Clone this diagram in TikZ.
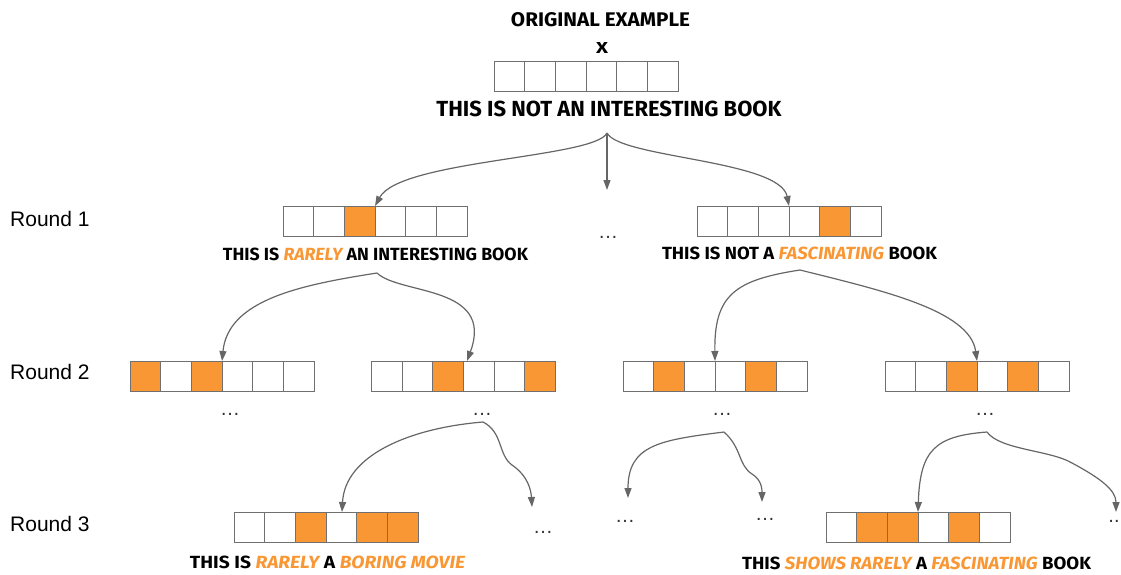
\documentclass[tikz,border=0pt]{standalone}
\usepackage{fontspec}
\usepackage{graphicx}
\setmainfont{Liberation Sans}
\newfontfamily\comic{Fira Sans}
\usetikzlibrary{arrows.meta}
\definecolor{orng}{HTML}{F99734}
\definecolor{cellline}{HTML}{707070}
\definecolor{arr}{HTML}{666666}
\newcommand\fitt[3]{\resizebox{#1pt}{#2pt}{\comic\bfseries #3}}
\newcommand\orw[1]{\textcolor{orng}{\itshape #1}}
\newcommand\tokrow[3]{\foreach \i in {1,...,6}{\node[cellbox] (#1\i) at ({#2+(\i-0.5)*30.667},{#3+15}) {};}}
\newcommand\hot[2]{\foreach \i in {#2}{\node[cellbox,fill=orng] at (#1\i) {};}}
\tikzset{
  cellbox/.style={draw=cellline, line width=1pt, fill=white, minimum width=30.667pt, minimum height=30pt, inner sep=0pt, outer sep=0pt},
  conn/.style={draw=arr, line width=1.2pt, -{Triangle[length=10pt,width=7pt]}},
  dotsn/.style={font=\fontsize{20}{20}\selectfont, anchor=base, inner sep=0pt, text=black!80},
  roundlbl/.style={font=\fontsize{21}{21}\selectfont, anchor=west, inner sep=0pt},
  txt/.style={inner sep=0pt, outer sep=0pt}
}
\begin{document}
\begin{tikzpicture}[x=1pt,y=-1pt]
\useasboundingbox (0,0) rectangle (1121,574);

% labels
\node[roundlbl] (r1) at (10,219) {Round 1};
\node[roundlbl] (r2) at (10,372) {Round 2};
\node[roundlbl] (r3) at (10,524) {Round 3};

% top
\node[txt] (title) at (600.5,20) {\fitt{179}{14}{ORIGINAL EXAMPLE}};
\node[txt] (xl) at (602,47.5) {\fitt{12}{11}{X}};
\tokrow{T}{494}{61}
\node[txt] (s0) at (609,109) {\fitt{345}{15.5}{THIS IS NOT AN INTERESTING BOOK}};

% round 1
\tokrow{P}{283}{206}
\hot{P}{3}
\tokrow{Q}{697}{206}
\hot{Q}{5}
\node[txt] (s1l) at (375.5,254) {\fitt{305}{12.5}{THIS IS \orw{RARELY} AN INTERESTING BOOK}};
\node[txt] (s1r) at (799.5,253.5) {\fitt{275}{12.5}{THIS IS NOT A \orw{FASCINATING} BOOK}};
\node[dotsn] (d1) at (608,238) {…};

% round 2
\tokrow{A}{130}{361}
\hot{A}{1,3}
\tokrow{B}{371.5}{361}
\hot{B}{3,6}
\tokrow{C}{623}{361}
\hot{C}{2,5}
\tokrow{D}{885}{361}
\hot{D}{3,5}
\node[dotsn] (dA) at (230,415) {…};
\node[dotsn] (dB) at (482,415) {…};
\node[dotsn] (dC) at (722,415) {…};
\node[dotsn] (dD) at (985,415) {…};

% round 3
\tokrow{E}{234}{512}
\hot{E}{3,5,6}
\tokrow{F}{826}{512}
\hot{F}{2,3,5}
\node[txt] (se) at (327.5,562) {\fitt{275}{12.5}{THIS IS \orw{RARELY} A \orw{BORING MOVIE}}};
\node[txt] (sf) at (916.5,563) {\fitt{349}{12.5}{THIS \orw{SHOWS RARELY} A \orw{FASCINATING} BOOK}};
\node[dotsn] (dE) at (543,533) {…};
\node[dotsn] (dC1) at (625,522) {…};
\node[dotsn] (dC2) at (765,520) {…};
\node[dotsn] (dD2) at (1114,522) {..};

% connector origins and free ends
\coordinate (o0) at (607,133);
\coordinate (o1l) at (377,273);
\coordinate (o1r) at (800,270);
\coordinate (o2b) at (483,422);
\coordinate (o2c) at (724,432);
\coordinate (o2d) at (987,432);
\coordinate (f0) at (607,190);
\coordinate (fb) at (532,507);
\coordinate (fc1) at (628,498);
\coordinate (fc2) at (762,502);
\coordinate (fd) at (1116,512);
\coordinate (tb) at (467,361);
\coordinate (te) at (342,512);

% connectors
\draw[conn] (o0) .. controls (595,158) and (400,160) .. (P3.north east);
\draw[conn] (o0) .. controls (620,158) and (780,160) .. (Q3.north east);
\draw[conn] (o0) -- (f0);
\draw[conn] (o1l) .. controls (300,285) and (228,300) .. (A3.north east);
\draw[conn] (o1l) .. controls (400,295) and (495,285) .. (tb);
\draw[conn] (o1r) .. controls (735,280) and (714,295) .. (C3.north east);
\draw[conn] (o1r) .. controls (880,290) and (970,310) .. (D3.north east);
\draw[conn] (o2b) .. controls (410,428) and (345,455) .. (te);
\draw[conn] (o2b) .. controls (503,432) and (498,455) .. (512,465) .. controls (528,476) and (531,490) .. (fb);
\draw[conn] (o2c) .. controls (660,440) and (628,445) .. (fc1);
\draw[conn] (o2c) .. controls (742,448) and (738,465) .. (752,474) .. controls (762,480) and (762,490) .. (fc2);
\draw[conn] (o2d) .. controls (935,436) and (920,450) .. (F3.north east);
\draw[conn] (o2d) .. controls (1000,450) and (1050,450) .. (1072,463) .. controls (1100,478) and (1116,490) .. (fd);
\end{tikzpicture}
\end{document}
